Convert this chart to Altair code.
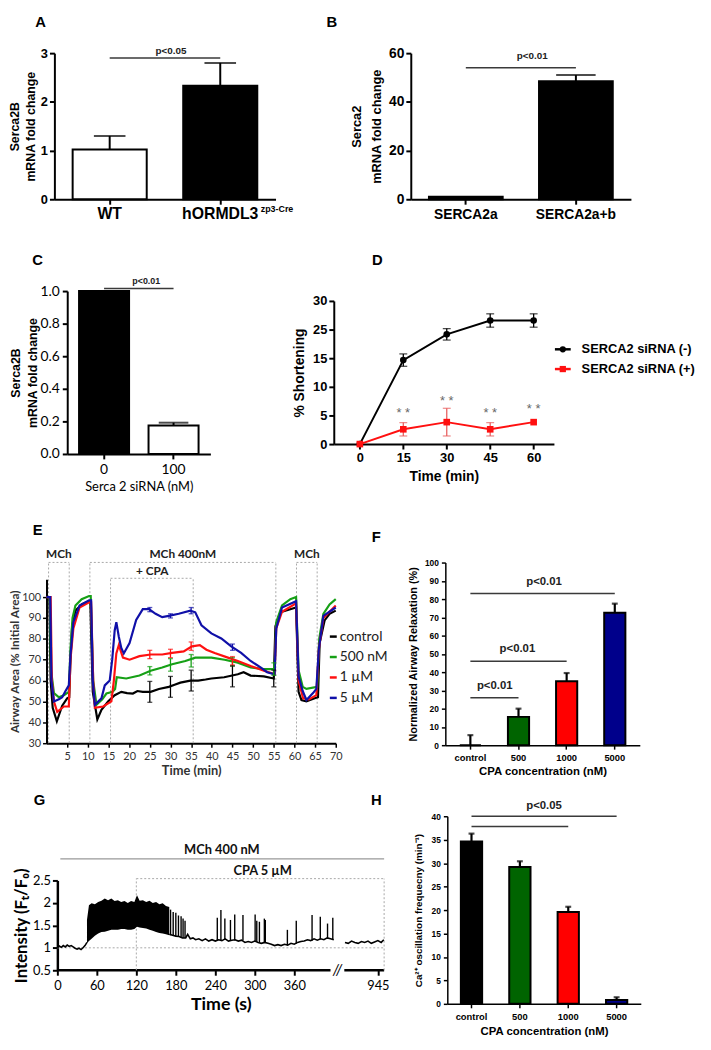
import altair as alt
import pandas as pd

ARIAL = "Liberation Sans"
CALI = "Lato"
DOT = "#a8a8a8"

# ======================= DATA =======================
# Panel A
A_GROUPS = ["WT", "hORMDL3"]
A_MEAN = [1.02, 2.33]
A_ERR = [0.28, 0.47]
A_FILLS = ["white", "black"]
A_YTICKS = [0, 1, 2, 3]
A_SIG = [["WT", "hORMDL3", 2.9]]

# Panel B
B_GROUPS = ["SERCA2a", "SERCA2a+b"]
B_MEAN = [1.0, 48.5]
B_ERR = [0.0, 2.5]
B_FILLS = ["black", "black"]
B_YTICKS = [0, 20, 40, 60]
B_SIG = [["SERCA2a", "SERCA2a+b", 54]]

# Panel C
C_GROUPS = ["0", "100"]
C_MEAN = [1.0, 0.175]
C_ERR = [0.0, 0.017]
C_FILLS = ["black", "white"]
C_YTICKS = [0, 0.2, 0.4, 0.6, 0.8, 1.0]
C_SIG = [["0", "100", 1.016]]

# Panel D
D_TIME = [0, 15, 30, 45, 60]
D_NEG = [0, 17.6, 23.0, 25.9, 25.9]
D_NEG_ERR = [0, 1.3, 1.2, 1.4, 1.4]
D_POS = [0, 3.1, 4.6, 3.1, 4.6]
D_POS_ERR = [0, 1.4, 2.9, 1.4, 0]
D_STAR_T = [15, 30, 45, 60]
D_STAR_Y = [6.4, 9.1, 6.4, 7.4]
D_YTICK_POS = [0, 6, 12, 18, 24, 30]
D_YTICK_LABELS = ["0", "5", "10", "15", "25", "30"]
D_XTICKS = [0, 15, 30, 45, 60]
D_SERIES = ["SERCA2 siRNA (-)", "SERCA2 siRNA (+)"]

# Panel E
E_SERIES = ["control", "500 nM", "1 µM", "5 µM"]
E_COLORS = ["black", "#16a016", "#ff1010", "#1010a8"]
E_BLACK_T = [0, 0.7, 1.0, 1.5, 2.5, 3.8, 5.0, 5.5, 5.8, 6.2, 7.0, 8.6, 10.2, 10.6, 11.2, 12.3, 13.3, 14.9, 16.5, 18.1,
             19.5, 20.9, 22.0, 23.3, 25.2, 27.2, 29.6, 31.0, 32.4, 34.8, 36.7, 38.5, 39.9, 43.0, 46.3, 47.7, 49.4, 52.6,
             55.0, 55.4, 56.6, 59.0, 60.4, 61.0, 61.7, 62.9, 64.9, 65.7, 66.1, 67.3, 68.5, 70.0]
E_BLACK_V = [100, 100, 60, 47, 40.5, 48, 51.5, 52, 70, 86, 93.5, 96.6, 98, 98, 54.6, 41.4, 46, 50, 53, 54.6,
             54, 53.8, 55, 54.6, 54.6, 56, 57, 58, 59, 60, 60, 60.5, 61, 61.6, 63, 64, 62.4, 62,
             61, 86, 92.7, 94.2, 95, 54.6, 50.7, 50, 51.5, 52, 78, 88.8, 92, 93.5]
E_GREEN_T = [0, 0.8, 1.1, 1.8, 3.0, 4.2, 5.4, 5.8, 6.3, 7.0, 8.5, 10.3, 10.7, 11.3, 12.1, 13.5, 14.5, 16.0, 16.6, 17.0,
             19.3, 22.5, 25.2, 28.0, 30.4, 33.6, 36.0, 39.9, 43.1, 46.3, 49.4, 52.6, 55.2, 55.6, 57.0, 59.0, 60.4, 61.0,
             62.0, 62.9, 65.5, 66.0, 67.0, 68.5, 70.0]
E_GREEN_V = [100, 100, 65, 54, 52, 53, 54.6, 75, 90, 96, 99, 100.5, 100.5, 60, 48.4, 51, 53.8, 54.6, 56, 61.6,
             61, 62.4, 64.7, 66.3, 67.8, 69.4, 71, 71, 70, 68.6, 66.3, 65.5, 65.5, 88, 96, 99, 100, 65,
             57, 56, 57, 80, 92, 96.5, 99]
E_RED_T = [0, 1.0, 1.3, 1.8, 2.6, 4.2, 5.4, 5.8, 6.5, 8.0, 10.3, 10.8, 11.3, 11.7, 13.7, 15.7, 16.3, 16.9, 17.5, 18.5,
           20.1, 22.5, 25.2, 28.0, 30.4, 33.2, 35.2, 37.1, 38.7, 40.7, 43.9, 46.3, 49.4, 52.6, 55.2, 55.6, 57.0, 60.4,
           61.0, 62.1, 63.5, 65.3, 65.9, 67.0, 70.0]
E_RED_V = [100, 100, 60, 50, 45, 47.6, 47.6, 70, 85, 95, 97.5, 97.5, 60, 47, 47.6, 50, 60, 73, 77, 71,
           70, 71.7, 72.5, 72.5, 73.3, 74, 76.4, 77, 74.8, 73.2, 71, 69.4, 67, 64.7, 63.1, 85, 93, 97,
           60, 51.5, 51, 53, 75, 90, 96]
E_BLUE_T = [0, 0.9, 1.2, 1.8, 3.0, 3.8, 4.6, 5.4, 5.8, 6.5, 8.0, 10.3, 10.8, 11.2, 11.7, 13.3, 14.1, 15.3, 15.9, 16.5,
            16.9, 17.5, 18.1, 18.7, 20.1, 21.7, 23.3, 24.8, 26.4, 28.0, 29.6, 32.0, 34.8, 36.0, 37.5, 39.9, 42.3, 44.7,
            47.1, 49.4, 51.8, 53.4, 55.2, 55.6, 57.0, 60.4, 61.0, 62.0, 62.9, 64.5, 65.3, 65.9, 67.0, 70.0]
E_BLUE_V = [100, 100, 60, 50, 51, 52, 55, 57.7, 72, 88, 96, 98.5, 98.5, 60, 48.4, 51.5, 57.7, 60, 70, 84,
            88, 81, 75.6, 73, 78, 89, 94.2, 94.2, 92, 90.4, 91, 92, 93.5, 92.7, 86.5, 82.6, 80.2, 76.4,
            73.3, 69.4, 66.3, 64, 63, 85, 95, 98, 62, 55, 50.7, 54, 56, 75, 91, 95]
E_ERRBAR_SERIES = ["control"] * 5 + ["500 nM"] * 5 + ["1 µM"] * 4 + ["5 µM"] * 4
E_ERRBAR_T = [25, 30, 35, 45, 55, 25, 30, 35, 45, 55, 25, 30, 35, 45, 25, 30, 35, 45]
E_ERRBAR_Y = [54.6, 57, 60, 62, 61, 64.7, 67.5, 69.5, 69, 65.5, 72.5, 73, 76.5, 69.5, 94, 91, 93.5, 76]
E_ERRBAR_E = [5, 5, 5, 5, 4, 2, 3, 3, 2, 3, 2, 2, 2, 2, 1, 1, 1.5, 1.5]
E_DASH_T = [0.5, 5.5, 10.5, 15.5, 35.5, 55.5, 60.5, 65.5]
E_DASH_TOP = [116.6, 116.6, 116.6, 109, 109, 116.6, 116.6, 116.6]
E_BRACKET_FROM = [0.5, 10.5, 15.5, 60.5]
E_BRACKET_TO = [5.5, 55.5, 35.5, 65.5]
E_BRACKET_Y = [116.6, 116.6, 109, 116.6]
E_LABELS = ["MCh", "MCh 400nM", "+ CPA", "MCh"]
E_LABEL_T = [3, 33, 25.6, 63]
E_LABEL_Y = [120.8, 120.8, 112.6, 120.8]
E_XTICKS = [5, 10, 15, 20, 25, 30, 35, 40, 45, 50, 55, 60, 65, 70]
E_YTICKS = [30, 40, 50, 60, 70, 80, 90, 100]

# Panel F
F_GROUPS = ["control", "500", "1000", "5000"]
F_MEAN = [0, 15.5, 35, 72.5]
F_ERR = [5.5, 4.5, 4.5, 5]
F_FILLS = ["white", "#006400", "#ff0000", "#00008b"]
F_YTICKS = [0, 10, 20, 30, 40, 50, 60, 70, 80, 90, 100]
F_SIG = [["control", "5000", 83], ["control", "1000", 46], ["control", "500", 26]]

# Panel G
G_PRE_T = [0, 3, 6, 9, 12, 15, 18, 21, 24, 27, 30, 33, 36, 39, 42, 45]
G_PRE_V = [1.0, 1.04, 1.01, 1.05, 1.02, 1.06, 1.03, 1.05, 1.02, 0.99, 0.97, 0.99, 0.96, 1.0, 1.05, 1.12]
G_DENSE_T = [45, 48, 52, 57, 62, 67, 72, 77, 82, 87, 92, 97, 102, 107, 112, 117, 121, 125, 130, 135, 140, 145,
             150, 155, 160, 165, 170]
G_DENSE_LO = [1.1, 1.15, 1.2, 1.27, 1.32, 1.35, 1.36, 1.38, 1.4, 1.4, 1.4, 1.42, 1.42, 1.4, 1.4, 1.42, 1.47, 1.45,
              1.44, 1.43, 1.4, 1.38, 1.35, 1.33, 1.32, 1.3, 1.28]
G_DENSE_HI = [1.62, 1.95, 1.99, 1.97, 2.02, 2.05, 2.1, 2.06, 2.1, 2.04, 2.06, 2.02, 2.04, 2.0, 2.04, 2.02, 2.17, 2.05,
              2.06, 2.02, 2.05, 2.0, 2.02, 1.97, 1.99, 1.93, 1.91]
G_POST_T = [170, 175, 180, 185, 190, 195, 198, 202, 206, 210, 215, 220, 225, 230, 235, 240, 245, 250, 255, 260,
            265, 270, 275, 280, 285, 290, 295, 300, 305, 310, 315, 320, 325, 330, 335, 340, 345, 350, 355, 360,
            365, 370, 375, 380, 385, 390, 395, 400, 405, 410, 415, 420]
G_POST_V = [1.3, 1.28, 1.26, 1.25, 1.22, 1.22, 1.3, 1.2, 1.22, 1.18, 1.2, 1.16, 1.2, 1.15, 1.18, 1.15, 1.18, 1.16,
            1.2, 1.15, 1.17, 1.18, 1.15, 1.17, 1.12, 1.14, 1.12, 1.15, 1.12, 1.1, 1.12, 1.1, 1.08, 1.05, 1.07, 1.05,
            1.08, 1.06, 1.1, 1.08, 1.12, 1.14, 1.15, 1.18, 1.16, 1.2, 1.17, 1.2, 1.18, 1.22, 1.2, 1.18]
G_SPIKE_T = [172, 176, 180, 184, 188, 191, 194, 243, 248.5, 254.5, 263, 269.5, 282, 300.5, 303, 307, 314.5, 316,
             349.5, 363, 387, 399.5, 410.5, 418.5]
G_SPIKE_TOP = [1.85, 1.8, 1.78, 1.72, 1.7, 1.65, 1.6, 1.67, 1.84, 1.65, 1.62, 1.74, 1.73, 1.74, 1.6, 1.58, 1.65,
               1.62, 1.4, 1.6, 1.73, 1.69, 1.54, 1.67]
G_SPIKE_BASE = [1.28, 1.27, 1.26, 1.25, 1.23, 1.22, 1.22, 1.16, 1.17, 1.18, 1.16, 1.17, 1.17, 1.15, 1.13, 1.12,
                1.11, 1.11, 1.06, 1.09, 1.16, 1.19, 1.2, 1.19]
G_END_T = [895, 900, 905, 910, 915, 920, 925, 930, 935, 940, 945, 950, 954]
G_END_V = [1.12, 1.1, 1.15, 1.12, 1.1, 1.14, 1.12, 1.15, 1.1, 1.13, 1.16, 1.12, 1.18]
G_BREAK_OFFSET = 458
G_XTICKS = [0, 60, 120, 180, 240, 300, 360, 945]
G_YTICKS = [0.5, 1, 1.5, 2, 2.5]
G_AXIS_SEG_FROM = [0, 436]
G_AXIS_SEG_TO = [415, 496.5]

# Panel H
H_GROUPS = ["control", "500", "1000", "5000"]
H_MEAN = [34.6, 29.2, 19.6, 0.8]
H_ERR = [1.7, 1.2, 1.1, 0.6]
H_FILLS = ["black", "#006400", "#ff0000", "#00008b"]
H_YTICKS = [0, 5, 10, 15, 20, 25, 30, 35, 40]
H_SIG = [["control", "5000", 40], ["control", "1000", 37.8]]

# ======================= LAYOUT (pixels) =======================
CANVAS_W, CANVAS_H = 703, 1040
# plot rectangle of each panel: left, top, width, height
GEOM = {
    "A": (46, 39, 224, 148), "B": (407, 39, 223, 148),
    "C": (59, 280, 145, 165), "D": (329, 290, 223, 145),
    "E": (38, 572, 293, 166), "F": (442, 555, 197, 185),
    "G": (49, 877, 331, 91), "H": (444, 812, 196, 190),
}
LETTERS = {"A": (32, 8), "B": (327, 8), "C": (29, 249), "D": (373, 249),
           "E": (29, 522), "F": (372, 529), "G": (31, 796), "H": (372, 796)}


# ======================= HELPERS =======================
def axis(**kw):
    base = dict(domainColor="black", tickColor="black", labelColor="black", titleColor="black",
                grid=False, labelFlush=False, labelOverlap=False)
    base.update(kw)
    return alt.Axis(**base)


def xaxis(p, **kw):
    ox, oy, W, H = GEOM[p]
    return axis(orient="bottom", offset=(oy + H) - CANVAS_H, **kw)


def yaxis(p, **kw):
    ox, oy, W, H = GEOM[p]
    return axis(orient="left", offset=-ox, **kw)


def xrange(p):
    ox, oy, W, H = GEOM[p]
    return [ox, ox + W]


def yrange(p):
    ox, oy, W, H = GEOM[p]
    return [oy + H, oy]


def one():
    return pd.DataFrame({"t": [0]})


def txt(text, x, y, size=12, font=ARIAL, weight="bold", color="black", align="center", italic=False):
    kw = dict(text=text, font=font, fontSize=size, fontWeight=weight, color=color, align=align, baseline="middle")
    if italic:
        kw["fontStyle"] = "italic"
    return alt.Chart(one()).mark_text(**kw).encode(x=alt.value(x), y=alt.value(y))


def letter(p):
    x, y = LETTERS[p]
    return txt(p, x, y, size=15)


class Enc:
    def __init__(self, xs, xa, ys, ya):
        self.xs, self.xa, self.ys, self.ya = xs, xa, ys, ya

    def x(self, f):
        return alt.X(f, scale=self.xs, axis=self.xa)

    def y(self, f):
        return alt.Y(f, scale=self.ys, axis=self.ya)


def bar_layers(p, groups, means, errs, fills, E, cap=30, ew=2, bstroke=2):
    g, m, hi = f"{p}_g", f"{p}_m", f"{p}_hi"
    df = pd.DataFrame({g: groups, m: means, hi: [a + b for a, b in zip(means, errs)]})
    bars = alt.Chart(df).mark_bar(stroke="black", strokeWidth=bstroke).encode(
        x=E.x(f"{g}:N"), y=E.y(f"{m}:Q"),
        fill=alt.Fill(f"{g}:N", scale=alt.Scale(domain=groups, range=fills), legend=None),
    )
    dfe = df[[e > 0 for e in errs]]
    rule = alt.Chart(dfe).mark_rule(color="black", strokeWidth=ew).encode(
        x=E.x(f"{g}:N"), y=E.y(f"{m}:Q"), y2=f"{hi}:Q")
    capm = alt.Chart(dfe).mark_tick(color="black", thickness=ew, size=cap, orient="horizontal").encode(
        x=E.x(f"{g}:N"), y=E.y(f"{hi}:Q"))
    return [bars, rule, capm]


def sig_rules(p, sig, E, color="#3a3a3a", w=1.5):
    df = pd.DataFrame({f"{p}_s1": [s[0] for s in sig], f"{p}_s2": [s[1] for s in sig],
                       f"{p}_sy": [s[2] for s in sig]})
    return alt.Chart(df).mark_rule(color=color, strokeWidth=w).encode(
        x=E.x(f"{p}_s1:N"), x2=f"{p}_s2:N", y=E.y(f"{p}_sy:Q"))


# ======================= PANELS =======================
def panel_A():
    xs = alt.Scale(domain=A_GROUPS, range=xrange("A"), paddingInner=0.33, paddingOuter=0.165)
    ys = alt.Scale(domain=[0, 3], range=yrange("A"), nice=False)
    xa = xaxis("A", title=None, labelFont=ARIAL, labelFontSize=16, labelFontWeight="bold", labelAngle=0,
               labelPadding=2, domainWidth=2, tickWidth=2, tickSize=5)
    ya = yaxis("A", values=A_YTICKS, title=["Serca2B", "mRNA fold change"], labelFont=ARIAL, labelFontSize=13,
               labelFontWeight="bold", labelPadding=2, titleFont=ARIAL, titleFontSize=12.5, titleFontWeight="bold",
               titlePadding=3, titleLineHeight=16, domainWidth=2, tickWidth=2, tickSize=5)
    E = Enc(xs, xa, ys, ya)
    layers = bar_layers("A", A_GROUPS, A_MEAN, A_ERR, A_FILLS, E, cap=32)
    layers.append(sig_rules("A", A_SIG, E))
    layers.append(txt("p<0.05", 164, 37, size=10, color="#222"))
    sup = pd.DataFrame({"A_g": [A_GROUPS[1]]})
    layers.append(alt.Chart(sup).mark_text(text="zp3-Cre", font=ARIAL, fontSize=9, fontWeight="bold",
                                            align="left", baseline="middle", dx=41).encode(
        x=E.x("A_g:N"), y=alt.value(197)))
    layers.append(letter("A"))
    return alt.layer(*layers)


def panel_B():
    xs = alt.Scale(domain=B_GROUPS, range=xrange("B"), paddingInner=0.33, paddingOuter=0.165)
    ys = alt.Scale(domain=[0, 60], range=yrange("B"), nice=False)
    xa = xaxis("B", title=None, labelFont=ARIAL, labelFontSize=14, labelFontWeight="bold", labelAngle=0,
               labelPadding=3, domainWidth=2, tickWidth=2, tickSize=5)
    ya = yaxis("B", values=B_YTICKS, title=["Serca2", "mRNA fold change"], labelFont=ARIAL, labelFontSize=14,
               labelFontWeight="bold", labelPadding=2, titleFont=ARIAL, titleFontSize=13, titleFontWeight="bold",
               titlePadding=5, titleLineHeight=20, domainWidth=2, tickWidth=2, tickSize=5)
    E = Enc(xs, xa, ys, ya)
    layers = bar_layers("B", B_GROUPS, B_MEAN, B_ERR, B_FILLS, E, cap=40)
    layers.append(sig_rules("B", B_SIG, E))
    layers.append(txt("p<0.01", 530, 42, size=10, color="#222"))
    layers.append(letter("B"))
    return alt.layer(*layers)


def panel_C():
    xs = alt.Scale(domain=C_GROUPS, range=xrange("C"), paddingInner=0.28, paddingOuter=0.17)
    ys = alt.Scale(domain=[0, 1], range=yrange("C"), nice=False)
    xa = xaxis("C", title="Serca 2 siRNA (nM)", labelFont=CALI, labelFontSize=14, labelFontWeight="normal",
               labelAngle=0, labelPadding=4, titleFont=CALI, titleFontSize=13, titleFontWeight="normal",
               titlePadding=4, domainWidth=2, tickWidth=2, tickSize=5)
    ya = yaxis("C", values=C_YTICKS, format=".1f", title=["Serca2B", "mRNA fold change"], labelFont=CALI,
               labelFontSize=14, labelFontWeight="normal", labelPadding=3, titleFont=ARIAL, titleFontSize=12.5,
               titleFontWeight="bold", titlePadding=1, titleLineHeight=16.5, domainWidth=2, tickWidth=2,
               tickSize=5)
    E = Enc(xs, xa, ys, ya)
    layers = bar_layers("C", C_GROUPS, C_MEAN, C_ERR, C_FILLS, E, cap=30)
    layers.append(sig_rules("C", C_SIG, E))
    layers.append(txt("p<0.01", 139, 270, size=9, color="#222"))
    layers.append(letter("C"))
    return alt.layer(*layers)


def panel_D():
    xs = alt.Scale(domain=[-9, 67], range=xrange("D"), nice=False, zero=False)
    ys = alt.Scale(domain=[0, 30], range=yrange("D"), nice=False)
    expr = ("[" + ",".join(f"'{l}'" for l in D_YTICK_LABELS) + "][indexof(["
            + ",".join(str(v) for v in D_YTICK_POS) + "], datum.value)]")
    xa = xaxis("D", values=D_XTICKS, title="Time (min)", labelFont=ARIAL, labelFontSize=13, labelFontWeight="bold",
               labelPadding=3, titleFont=ARIAL, titleFontSize=14, titleFontWeight="bold", titlePadding=5,
               domainWidth=2, tickWidth=2, tickSize=5)
    ya = yaxis("D", values=D_YTICK_POS, labelExpr=expr, title="% Shortening", labelFont=ARIAL, labelFontSize=13,
               labelFontWeight="bold", labelPadding=2, titleFont=ARIAL, titleFontSize=14, titleFontWeight="bold",
               titlePadding=6, domainWidth=2, tickWidth=2, tickSize=5)
    E = Enc(xs, xa, ys, ya)
    layers = []
    for i, (vals, errs, col, shape) in enumerate([(D_NEG, D_NEG_ERR, "black", "circle"),
                                                   (D_POS, D_POS_ERR, "#ff1010", "square")]):
        df = pd.DataFrame({"D_t": D_TIME, "D_v": vals,
                           "D_lo": [v - e for v, e in zip(vals, errs)],
                           "D_hi": [v + e for v, e in zip(vals, errs)]})
        dfe = df[[e > 0 for e in errs]]
        ecol = col if i == 0 else "#e86060"
        layers.append(alt.Chart(dfe).mark_rule(color=ecol, strokeWidth=1.3).encode(
            x=E.x("D_t:Q"), y=E.y("D_lo:Q"), y2="D_hi:Q"))
        for f in ["D_lo", "D_hi"]:
            layers.append(alt.Chart(dfe).mark_tick(color=ecol, thickness=1.3, size=8, orient="horizontal").encode(
                x=E.x("D_t:Q"), y=E.y(f"{f}:Q")))
        layers.append(alt.Chart(df).mark_line(color=col, strokeWidth=2).encode(x=E.x("D_t:Q"), y=E.y("D_v:Q")))
        layers.append(alt.Chart(df).mark_point(color=col, filled=True, opacity=1, shape=shape, size=45).encode(
            x=E.x("D_t:Q"), y=E.y("D_v:Q")))
    sdf = pd.DataFrame({"D_st": D_STAR_T, "D_sy": D_STAR_Y})
    layers.append(alt.Chart(sdf).mark_text(text="* *", font=ARIAL, fontSize=13, color="#666", baseline="middle").encode(
        x=E.x("D_st:Q"), y=E.y("D_sy:Q")))
    for k, (name, col, shape) in enumerate(zip(D_SERIES, ["black", "#ff1010"], ["circle", "square"])):
        yy = 339 + 20 * k
        layers.append(alt.Chart(one()).mark_rule(color=col, strokeWidth=2.5).encode(
            x=alt.value(553), x2=alt.value(569), y=alt.value(yy)))
        layers.append(alt.Chart(one()).mark_point(
            color=col, filled=True, opacity=1, shape=shape, size=40).encode(x=alt.value(561), y=alt.value(yy)))
        layers.append(txt(name, 580, yy, size=13, align="left"))
    layers.append(letter("D"))
    return alt.layer(*layers)


def panel_E():
    xs = alt.Scale(domain=[0, 70], range=xrange("E"), nice=False)
    ys = alt.Scale(domain=[30, 108.5], range=yrange("E"), nice=False, zero=False)
    xa = xaxis("E", values=E_XTICKS, title="Time (min)", labelFont=CALI, labelFontSize=11, labelColor="#333",
               labelPadding=3, titleFont=CALI, titleFontSize=13, titleFontWeight="bold", titleColor="#333",
               titlePadding=4, domainWidth=2, tickWidth=1.5, tickSize=4)
    ya = yaxis("E", values=E_YTICKS, title="Airway Area (% Initial Area)", labelFont=CALI, labelFontSize=11,
               labelColor="#333", labelPadding=2, titleFont=CALI, titleFontSize=12, titleFontWeight="bold",
               titleColor="#333", titlePadding=0, domainWidth=2, tickWidth=1.5, tickSize=4)
    E = Enc(xs, xa, ys, ya)
    layers = []
    ddf = pd.DataFrame({"E_dt": E_DASH_T, "E_dlo": [30] * len(E_DASH_T), "E_dhi": E_DASH_TOP})
    layers.append(alt.Chart(ddf).mark_rule(color=DOT, strokeWidth=1, strokeDash=[2, 2]).encode(
        x=E.x("E_dt:Q"), y=E.y("E_dlo:Q"), y2="E_dhi:Q"))
    bdf = pd.DataFrame({"E_b1": E_BRACKET_FROM, "E_b2": E_BRACKET_TO, "E_by": E_BRACKET_Y})
    layers.append(alt.Chart(bdf).mark_rule(color=DOT, strokeWidth=1, strokeDash=[2, 2]).encode(
        x=E.x("E_b1:Q"), x2="E_b2:Q", y=E.y("E_by:Q")))
    ldf = pd.DataFrame({"E_lt": E_LABEL_T, "E_ly": E_LABEL_Y, "E_lab": E_LABELS})
    layers.append(alt.Chart(ldf).mark_text(font=CALI, fontSize=12, fontWeight="bold", color="#222",
                                           baseline="middle").encode(
        x=E.x("E_lt:Q"), y=E.y("E_ly:Q"), text="E_lab:N"))
    series = [(E_BLACK_T, E_BLACK_V), (E_GREEN_T, E_GREEN_V), (E_RED_T, E_RED_V), (E_BLUE_T, E_BLUE_V)]
    for (tt, vv), col in zip(series, E_COLORS):
        df = pd.DataFrame({"E_t": tt, "E_v": vv})
        layers.append(alt.Chart(df).mark_line(color=col, strokeWidth=2.2).encode(x=E.x("E_t:Q"), y=E.y("E_v:Q")))
    edf = pd.DataFrame({"E_es": E_ERRBAR_SERIES, "E_et": E_ERRBAR_T,
                        "E_elo": [y - e for y, e in zip(E_ERRBAR_Y, E_ERRBAR_E)],
                        "E_ehi": [y + e for y, e in zip(E_ERRBAR_Y, E_ERRBAR_E)]})
    ecol = alt.Color("E_es:N", scale=alt.Scale(domain=E_SERIES, range=E_COLORS), legend=None)
    layers.append(alt.Chart(edf).mark_rule(strokeWidth=1.3).encode(
        x=E.x("E_et:Q"), y=E.y("E_elo:Q"), y2="E_ehi:Q", color=ecol))
    for f in ["E_elo", "E_ehi"]:
        layers.append(alt.Chart(edf).mark_tick(thickness=1.3, size=5, orient="horizontal").encode(
            x=E.x("E_et:Q"), y=E.y(f"{f}:Q"), color=ecol))
    for k, (name, col) in enumerate(zip(E_SERIES, E_COLORS)):
        yy = 630 + 20.7 * k
        layers.append(alt.Chart(one()).mark_rule(color=col, strokeWidth=2.5).encode(
            x=alt.value(325), x2=alt.value(332), y=alt.value(yy)))
        layers.append(txt(name, 335, yy, size=14, font=CALI, weight="normal", color="#222", align="left"))
    layers.append(letter("E"))
    return alt.layer(*layers)


def panel_F():
    xs = alt.Scale(domain=F_GROUPS, range=xrange("F"), paddingInner=0.56, paddingOuter=0.3)
    ys = alt.Scale(domain=[0, 100], range=yrange("F"), nice=False)
    xa = xaxis("F", title="CPA concentration (nM)", labelFont=ARIAL, labelFontSize=9.5, labelFontWeight="bold",
               labelAngle=0, labelPadding=4, titleFont=ARIAL, titleFontSize=11.5, titleFontWeight="bold",
               titlePadding=3, domainWidth=1.5, tickWidth=1.5, tickSize=4)
    ya = yaxis("F", values=F_YTICKS, title="Normalized Airway Relaxation (%)", labelFont=ARIAL, labelFontSize=8.5,
               labelFontWeight="bold", labelPadding=3, titleFont=ARIAL, titleFontSize=11, titleFontWeight="bold",
               titlePadding=6, domainWidth=1.5, tickWidth=1.5, tickSize=4)
    E = Enc(xs, xa, ys, ya)
    layers = bar_layers("F", F_GROUPS, F_MEAN, F_ERR, F_FILLS, E, cap=6, ew=2.2, bstroke=2)
    layers.append(sig_rules("F", F_SIG, E))
    for xx, yy in [(542, 575), (515, 643), (492, 680)]:
        layers.append(txt("p<0.01", xx, yy, size=11.5, color="#222"))
    layers.append(letter("F"))
    return alt.layer(*layers)


def panel_G():
    xs = alt.Scale(domain=[0, 496.5], range=xrange("G"), nice=False)
    ys = alt.Scale(domain=[0.5, 2.5], range=yrange("G"), nice=False, zero=False)
    tick_pos = [t if t < 500 else t - G_BREAK_OFFSET for t in G_XTICKS]
    lab_expr = " : ".join(f"datum.value == {p} ? '{t}'" for p, t in zip(tick_pos, G_XTICKS)) + " : ''"
    xa = xaxis("G", values=tick_pos, labelExpr=lab_expr, title="Time (s)", labelFont=CALI, labelFontSize=13,
               labelPadding=4, titleFont=CALI, titleFontSize=18, titleFontWeight="bold", titlePadding=4,
               domain=False, tickWidth=2, tickSize=5)
    ya = yaxis("G", values=G_YTICKS, format="~g", title="Intensity (Fₜ/F₀)", labelFont=CALI, labelFontSize=13,
               labelPadding=2, titleFont=CALI, titleFontSize=17, titleFontWeight="bold", titlePadding=2,
               domainWidth=2.5, tickWidth=2, tickSize=5)
    E = Enc(xs, xa, ys, ya)
    layers = []
    sdf = pd.DataFrame({"G_a1": G_AXIS_SEG_FROM, "G_a2": G_AXIS_SEG_TO, "G_ay": [0.5, 0.5]})
    layers.append(alt.Chart(sdf).mark_rule(color="black", strokeWidth=2.5).encode(
        x=E.x("G_a1:Q"), x2="G_a2:Q", y=E.y("G_ay:Q")))
    layers.append(alt.Chart(pd.DataFrame({"G_bx": [425.5], "G_by": [0.5]})).mark_text(
        text="//", font=CALI, fontSize=15, fontStyle="italic", baseline="middle").encode(
        x=E.x("G_bx:Q"), y=E.y("G_by:Q")))
    hdf = pd.DataFrame({"G_h1": [0], "G_h2": [496.5], "G_hy": [1.0]})
    layers.append(alt.Chart(hdf).mark_rule(color=DOT, strokeWidth=1, strokeDash=[2, 2]).encode(
        x=E.x("G_h1:Q"), x2="G_h2:Q", y=E.y("G_hy:Q")))
    vdf = pd.DataFrame({"G_vx": [120, 496.5], "G_v1": [0.5, 0.5], "G_v2": [2.54, 2.54]})
    layers.append(alt.Chart(vdf).mark_rule(color=DOT, strokeWidth=1, strokeDash=[2, 2]).encode(
        x=E.x("G_vx:Q"), y=E.y("G_v1:Q"), y2="G_v2:Q"))
    bdf = pd.DataFrame({"G_c1": [120], "G_c2": [496.5], "G_cy": [2.54]})
    layers.append(alt.Chart(bdf).mark_rule(color=DOT, strokeWidth=1, strokeDash=[2, 2]).encode(
        x=E.x("G_c1:Q"), x2="G_c2:Q", y=E.y("G_cy:Q")))
    mdf = pd.DataFrame({"G_m1": [4.5], "G_m2": [496.5], "G_my": [2.98]})
    layers.append(alt.Chart(mdf).mark_rule(color="#999", strokeWidth=1.2).encode(
        x=E.x("G_m1:Q"), x2="G_m2:Q", y=E.y("G_my:Q")))
    tdf = pd.DataFrame({"G_tx": [250, 312], "G_ty": [3.18, 2.72], "G_tl": ["MCh 400 nM", "CPA 5 µM"]})
    layers.append(alt.Chart(tdf).mark_text(font=CALI, fontSize=13, fontWeight="bold", color="#111",
                                           baseline="middle").encode(
        x=E.x("G_tx:Q"), y=E.y("G_ty:Q"), text="G_tl:N"))
    adf = pd.DataFrame({"G_t": G_DENSE_T, "G_lo": G_DENSE_LO, "G_hi": G_DENSE_HI})
    layers.append(alt.Chart(adf).mark_area(color="black", opacity=1).encode(
        x=E.x("G_t:Q"), y=E.y("G_lo:Q"), y2="G_hi:Q"))
    end_pos = [t - G_BREAK_OFFSET for t in G_END_T]
    for tt, vv in [(G_PRE_T, G_PRE_V), (G_POST_T, G_POST_V), (end_pos, G_END_V)]:
        layers.append(alt.Chart(pd.DataFrame({"G_t": tt, "G_v": vv})).mark_line(
            color="black", strokeWidth=1.6).encode(x=E.x("G_t:Q"), y=E.y("G_v:Q")))
    spdf = pd.DataFrame({"G_st": G_SPIKE_T, "G_sb": G_SPIKE_BASE, "G_sp": G_SPIKE_TOP})
    layers.append(alt.Chart(spdf).mark_rule(color="black", strokeWidth=1.4).encode(
        x=E.x("G_st:Q"), y=E.y("G_sb:Q"), y2="G_sp:Q"))
    layers.append(letter("G"))
    return alt.layer(*layers)


def panel_H():
    xs = alt.Scale(domain=H_GROUPS, range=xrange("H"), paddingInner=0.56, paddingOuter=0.28)
    ys = alt.Scale(domain=[0, 40], range=yrange("H"), nice=False)
    xa = xaxis("H", title="CPA concentration (nM)", labelFont=ARIAL, labelFontSize=9.5, labelFontWeight="bold",
               labelAngle=0, labelPadding=4, titleFont=ARIAL, titleFontSize=11.5, titleFontWeight="bold",
               titlePadding=5, domainWidth=1.5, tickWidth=1.5, tickSize=4)
    ya = yaxis("H", values=H_YTICKS, title="Ca²⁺ oscillation frequecny (min⁻¹)", labelFont=ARIAL,
               labelFontSize=8.5, labelFontWeight="bold", labelPadding=3, titleFont=ARIAL, titleFontSize=10,
               titleFontWeight="bold", titlePadding=8, domainWidth=1.5, tickWidth=1.5, tickSize=4)
    E = Enc(xs, xa, ys, ya)
    layers = bar_layers("H", H_GROUPS, H_MEAN, H_ERR, H_FILLS, E, cap=6, ew=2.2, bstroke=2)
    layers.append(sig_rules("H", H_SIG, E))
    layers.append(txt("p<0.05", 542, 802, size=11.5, color="#222"))
    layers.append(letter("H"))
    return alt.layer(*layers)


# ======================= ASSEMBLY =======================
chart = (
    alt.layer(panel_A(), panel_B(), panel_C(), panel_D(), panel_E(), panel_F(), panel_G(), panel_H())
    .resolve_scale(x="independent", y="independent", fill="independent", color="independent")
    .resolve_axis(x="independent", y="independent")
    .properties(width=CANVAS_W, height=CANVAS_H, padding=0)
    .configure_view(stroke=None)
)

chart.save("out.html", embed_options={"renderer": "svg", "actions": False})
